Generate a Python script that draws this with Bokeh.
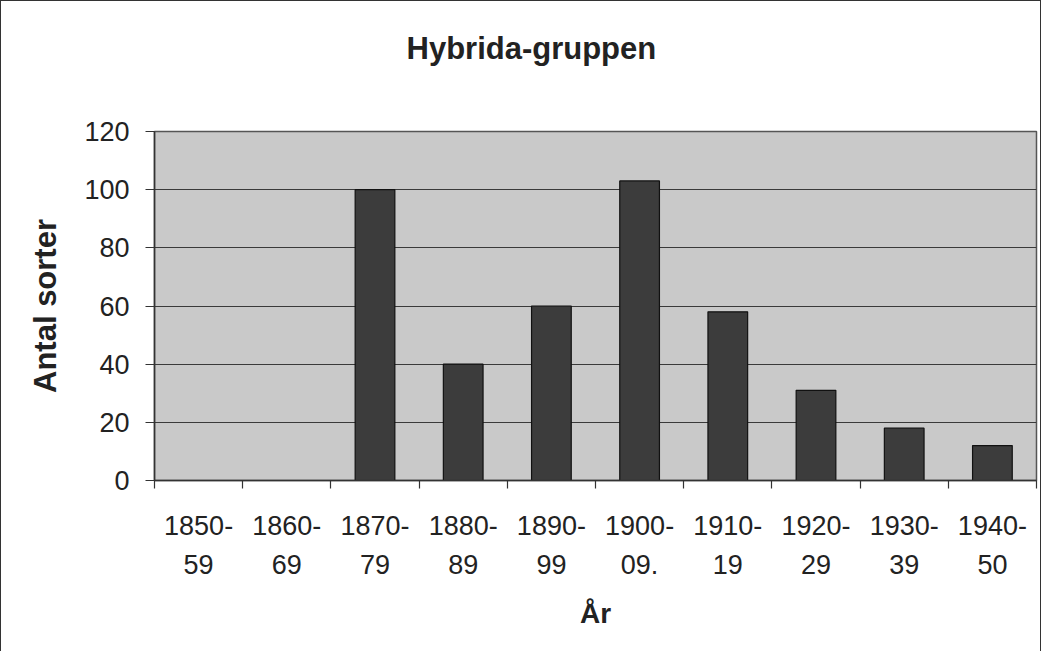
from bokeh.plotting import figure
from bokeh.models import FixedTicker, Range1d, Title
from bokeh.embed import file_html
from bokeh.resources import INLINE

# ---- data ----
periods = ["1850-\n59", "1860-\n69", "1870-\n79", "1880-\n89", "1890-\n99",
           "1900-\n09.", "1910-\n19", "1920-\n29", "1930-\n39", "1940-\n50"]
antal_sorter = [0, 0, 100, 40, 60, 103, 58, 31, 18, 12]
y_ticks = [0, 20, 40, 60, 80, 100, 120]

title_text = "Hybrida-gruppen"
x_label = "År"
y_label = "Antal sorter"

n = len(periods)
centers = [i + 0.5 for i in range(n)]
bounds = list(range(n + 1))

FONT = "Liberation Sans"

p = figure(width=1041, height=651, output_backend="svg", toolbar_location=None,
           x_range=Range1d(0, n), y_range=Range1d(0, 120),
           min_border_left=153, min_border_top=130, min_border_right=6,
           min_border_bottom=172)
p.styles = {"border-left": "1px solid #333", "border-top": "1px solid #333",
            "border-right": "1px solid #333"}

p.background_fill_color = "#c9c9c9"
p.border_fill_color = "white"
p.outline_line_color = "#555555"
p.outline_line_width = 1.5

p.vbar(x=centers, top=antal_sorter, width=0.45, bottom=0,
       fill_color="#3c3c3c", line_color="#111111", line_width=1.2)

# grid
p.xgrid.visible = False
p.ygrid.ticker = FixedTicker(ticks=y_ticks)
p.ygrid.grid_line_color = "#3a3a3a"
p.ygrid.grid_line_width = 1

# y axis
ya = p.yaxis[0]
ya.ticker = FixedTicker(ticks=y_ticks)
ya.axis_line_color = "#333333"
ya.axis_line_width = 1.5
ya.major_tick_out = 9
ya.major_tick_in = 0
ya.major_tick_line_color = "#333333"
ya.minor_tick_line_color = None
ya.major_label_standoff = 16
ya.major_label_text_font = FONT
ya.major_label_text_font_size = "27px"
ya.major_label_text_color = "#222222"
ya.axis_label = y_label
ya.axis_label_text_font = FONT
ya.axis_label_text_font_size = "31px"
ya.axis_label_text_font_style = "bold"
ya.axis_label_text_color = "#222222"
ya.axis_label_standoff = 18

# x axis
xa = p.xaxis[0]
xa.ticker = FixedTicker(ticks=centers, minor_ticks=bounds)
xa.major_label_overrides = {c: lab for c, lab in zip(centers, periods)}
xa.axis_line_color = "#333333"
xa.axis_line_width = 1.5
xa.major_tick_out = 0
xa.major_tick_in = 0
xa.major_tick_line_color = None
xa.minor_tick_out = 8
xa.minor_tick_in = 0
xa.minor_tick_line_color = "#333333"
xa.minor_tick_line_width = 1.2
xa.major_label_standoff = 22
xa.major_label_text_font = FONT
xa.major_label_text_font_size = "27px"
xa.major_label_text_color = "#222222"
xa.major_label_text_line_height = 1.3
xa.axis_label = x_label
xa.axis_label_text_font = FONT
xa.axis_label_text_font_size = "28px"
xa.axis_label_text_font_style = "bold"
xa.axis_label_text_color = "#222222"
xa.axis_label_standoff = 15

p.title = Title(text=title_text, align="left", offset=252,
                text_font=FONT, text_font_size="31px", text_font_style="bold",
                text_color="#222222", standoff=10)
# spacer panel between the title and the plot area
p.add_layout(Title(text=" ", text_font=FONT, text_font_size="10px", standoff=48), "above")

open("out.html", "w").write(file_html(p, INLINE))
